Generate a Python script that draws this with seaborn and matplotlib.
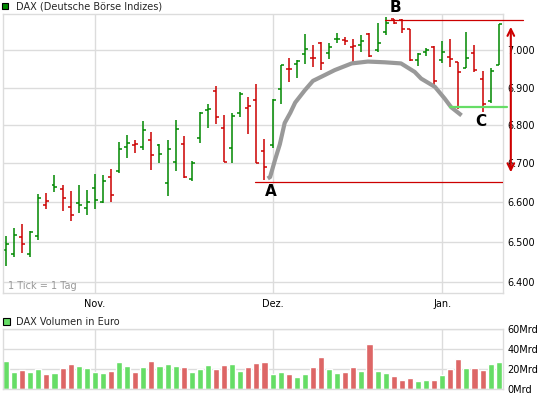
import numpy as np
import pandas as pd
import matplotlib
matplotlib.use("Agg")
import matplotlib.pyplot as plt
from matplotlib.patches import Rectangle
from matplotlib.ticker import NullLocator, NullFormatter
import seaborn as sns

# DAX daily bars 15.10.2010 - 12.01.2011
opens = [6480, 6468, 6511, 6470, 6515, 6594, 6644, 6634, 6589, 6599,
         6585, 6636, 6600, 6666, 6680, 6744, 6747, 6744, 6760, 6749,
         6650, 6705, 6751, 6661, 6767, 6841, 6892, 6792, 6741, 6833,
         6845, 6868, 6733, 6749, 6897, 6951, 6964, 6991, 6980, 7020,
         6992, 7031, 7029, 7009, 7016, 7044, 7002, 7049, 7085, 7084,
         7058, 6974, 6996, 7009, 6974, 6983, 6970, 6952, 6994, 6923,
         6865, 6961]
highs = [6513, 6535, 6545, 6528, 6621, 6624, 6669, 6645, 6629, 6645,
         6631, 6672, 6669, 6685, 6757, 6775, 6760, 6812, 6783, 6751,
         6760, 6814, 6773, 6706, 6836, 6855, 6904, 6828, 6833, 6887,
         6874, 6910, 6765, 6870, 6961, 6979, 6974, 7045, 7016, 7023,
         7020, 7047, 7036, 7031, 7041, 7047, 7075, 7092, 7086, 7086,
         7059, 6993, 7008, 7011, 7027, 7031, 6970, 7050, 7016, 6945,
         6952, 7072]
lows = [6440, 6462, 6472, 6462, 6505, 6583, 6625, 6578, 6551, 6573,
        6568, 6583, 6597, 6601, 6676, 6713, 6727, 6735, 6683, 6702,
        6617, 6680, 6663, 6654, 6753, 6794, 6804, 6705, 6702, 6821,
        6778, 6700, 6657, 6739, 6855, 6915, 6926, 6963, 6956, 6948,
        6977, 7020, 7014, 6970, 6996, 6983, 6995, 7043, 7073, 7047,
        6972, 6959, 6984, 6899, 6965, 6956, 6844, 6952, 6942, 6834,
        6858, 6961]
closes = [6493, 6517, 6493, 6525, 6610, 6604, 6639, 6612, 6568, 6594,
          6600, 6605, 6655, 6618, 6737, 6754, 6750, 6787, 6721, 6724,
          6737, 6790, 6664, 6700, 6833, 6844, 6822, 6705, 6824, 6882,
          6851, 6700, 6691, 6868, 6960, 6950, 6972, 7004, 6979, 6966,
          7009, 7031, 7027, 7013, 7025, 6984, 7020, 7076, 7074, 7059,
          6973, 6990, 7000, 6917, 6996, 6976, 6942, 6980, 6948, 6856,
          6945, 7072]
volume_mrd = [28.3, 17.7, 19.3, 17.7, 20.3, 15.3, 16.3, 21.3, 25.3, 23.3,
              21.3, 17.7, 16.3, 18.3, 27.3, 23.3, 17.7, 22.3, 28.3, 23.3,
              25.3, 23.3, 22.3, 17.7, 20.3, 24.3, 20.3, 24.3, 25.3, 18.3,
              22.3, 26.3, 27.3, 15.3, 17.3, 15.3, 12.3, 15.3, 22.3, 32.3,
              20.3, 16.3, 17.3, 22.3, 18.3, 45.3, 18.3, 16.3, 13.3, 9.3,
              11.3, 8.3, 9.3, 9.3, 14.3, 20.3, 30.3, 21.3, 21.3, 19.3,
              25.3, 27.3]

# Xetra trading days (no trading on 24.12. and 31.12.)
days = pd.bdate_range("2010-10-15", "2011-01-12")
days = days[~days.isin(pd.to_datetime(["2010-12-24", "2010-12-31"]))]

month_names = {11: "Nov.", 12: "Dez.", 1: "Jan."}
price_ticks = [6400, 6500, 6600, 6700, 6800, 6900, 7000]
volume_ticks = [0, 20, 40, 60]

# hand drawn marks (arc, support / resistance lines, labels)
arc_pos = [32.4, 32.7, 33.3, 33.9, 34.5, 35.2, 35.8, 37.0, 38.0, 39.5, 40.7,
           42.8, 44.8, 46.9, 48.9, 50.6, 51.4, 53.1, 54.3, 55.1, 56.4]
arc_price = [6661, 6665, 6709, 6750, 6806, 6833, 6860, 6893, 6918, 6934, 6947,
             6965, 6970, 6968, 6965, 6942, 6924, 6902, 6871, 6848, 6826]
level_a = 6651
level_b = 7083
level_c = 6849

df = pd.DataFrame({"day": days, "open": opens, "high": highs, "low": lows,
                   "close": closes, "volume": volume_mrd})
df["pos"] = np.arange(len(df))
prev_close = df["close"].shift(1).fillna(df["open"])
df["dir"] = np.where(df["close"] >= prev_close, "up", "down")

month_pos = [i for i in range(1, len(days)) if days[i].month != days[i - 1].month]
month_lbl = [month_names[days[i].month] for i in month_pos]

sns.set_theme(style="white")
plt.rcParams["font.family"] = ["DejaVu Sans"]

bar_colors = {"up": "#008800", "down": "#cc0000"}
vol_colors = {"up": "#66dd66", "down": "#dd6666"}
grid_col = "#dcdcdc"
xlim = (-0.41, 61.57)

fig = plt.figure(figsize=(5.45, 3.98), dpi=100)
ax = fig.add_axes([0.005, 0.263, 0.9185, 0.703])
axv = fig.add_axes([0.005, 0.022, 0.9185, 0.151])

# price panel (log scale)
tick = 0.37
for d, grp in df.groupby("dir"):
    c = bar_colors[d]
    ax.vlines(grp["pos"], grp["low"], grp["high"], color=c, lw=1.1)
    ax.hlines(grp["open"], grp["pos"] - tick, grp["pos"], color=c, lw=1.1)
    ax.hlines(grp["close"], grp["pos"], grp["pos"] + tick, color=c, lw=1.1)

ax.set_yscale("log")
ax.set_ylim(6371, 7101)
ax.set_xlim(*xlim)
ax.yaxis.set_minor_locator(NullLocator())
ax.yaxis.set_minor_formatter(NullFormatter())
ax.set_yticks(price_ticks, [f"{v:,}".replace(",", ".") for v in price_ticks])
ax.set_xticks(month_pos, month_lbl)
ax.yaxis.tick_right()
ax.tick_params(axis="y", length=0, pad=3, labelsize=7, labelcolor="black")
ax.tick_params(axis="x", length=0, pad=4, labelsize=7, labelcolor="black")
ax.grid(True, color=grid_col, lw=1)
ax.set_axisbelow(True)
for s in ax.spines.values():
    s.set_color(grid_col)
    s.set_linewidth(1)

# annotations
ax.plot(arc_pos, arc_price, color="#999999", lw=3, solid_capstyle="butt", zorder=3)
ax.plot([30.8, xlim[1]], [level_a, level_a], color="#cc0000", lw=0.9, zorder=4)
ax.plot([46.9, 64.0], [level_b, level_b], color="#cc0000", lw=0.9, zorder=4, clip_on=False)
ax.plot([55.0, 62.0], [level_c, level_c], color="#66dd66", lw=1.6, zorder=4, clip_on=False)
ax.annotate("", xy=(62.5, 7072), xytext=(62.5, 6670),
            arrowprops=dict(arrowstyle="<->", color="#cc0000", lw=1.5, mutation_scale=12),
            annotation_clip=False)
for lbl, p, v in [("A", 32.8, 6627), ("B", 48.2, 7117), ("C", 58.8, 6809)]:
    ax.text(p, v, lbl, fontsize=11, fontweight="heavy", color="black",
            ha="center", va="center", clip_on=False, zorder=5)
ax.text(0.011, 0.01, "1 Tick = 1 Tag", transform=ax.transAxes, fontsize=7,
        color="#999999", ha="left", va="bottom")

# volume panel
sns.barplot(data=df, x="pos", y="volume", hue="dir", palette=vol_colors,
            dodge=False, width=0.75, saturation=1, legend=False, ax=axv)
axv.set_xlim(*xlim)
axv.set_ylim(0, 60)
axv.set_xlabel("")
axv.set_ylabel("")
axv.set_xticks(month_pos, [""] * len(month_pos))
axv.set_yticks(volume_ticks, [f"{v}Mrd" for v in volume_ticks])
axv.yaxis.tick_right()
axv.tick_params(axis="y", length=0, pad=3, labelsize=7, labelcolor="black")
axv.tick_params(axis="x", length=0)
axv.grid(True, color=grid_col, lw=1)
axv.set_axisbelow(True)
for s in axv.spines.values():
    s.set_color(grid_col)
    s.set_linewidth(1)

# panel titles with legend squares
fig.add_artist(Rectangle((0.0031, 0.9766), 0.0121, 0.0166, facecolor="#008800",
                         edgecolor="black", lw=0.8, transform=fig.transFigure))
fig.text(0.0294, 0.984, "DAX (Deutsche Börse Indizes)", fontsize=7, va="center")
fig.add_artist(Rectangle((0.006, 0.1834), 0.0123, 0.0185, facecolor="#66dd66",
                         edgecolor="black", lw=0.8, transform=fig.transFigure))
fig.text(0.0294, 0.1922, "DAX Volumen in Euro", fontsize=7, va="center")

fig.savefig("out.png", dpi=100)
